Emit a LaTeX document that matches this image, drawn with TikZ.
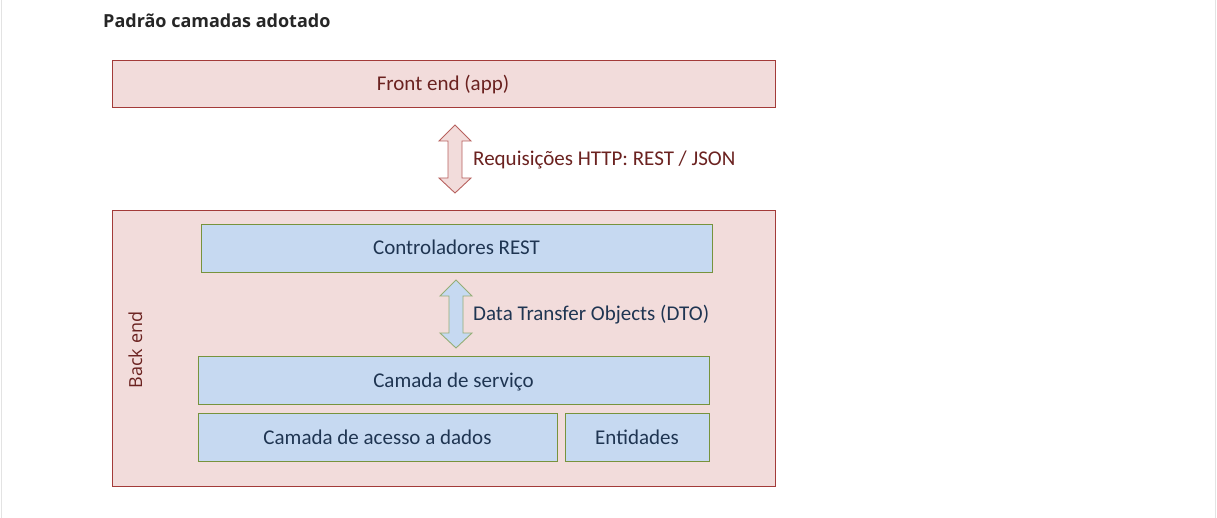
\documentclass[tikz,border=0pt]{standalone}
\usepackage{fontspec}
\setmainfont{Carlito}
\newfontfamily\titlefont{Open Sans}
\definecolor{pinkfill}{HTML}{F2DCDB}
\definecolor{redline}{HTML}{A33B39}
\definecolor{redtext}{HTML}{6B2220}
\definecolor{bluefill}{HTML}{C6D9F1}
\definecolor{greenline}{HTML}{77933C}
\definecolor{bluetext}{HTML}{1F3552}
\definecolor{arrowred}{HTML}{B8625F}
\definecolor{arrowgreen}{HTML}{94AE76}
\tikzset{
  outerbox/.style={draw=redline, fill=pinkfill, line width=0.9pt, inner sep=0pt},
  layerbox/.style={draw=greenline, fill=bluefill, line width=0.9pt, inner sep=0pt},
  redlabel/.style={text=redtext, font=\fontsize{21}{24}\selectfont, inner sep=0pt, anchor=base},
  bluelabel/.style={text=bluetext, font=\fontsize{21}{24}\selectfont, inner sep=0pt, anchor=base},
  redarrow/.style={draw=arrowred, fill=pinkfill, line width=0.9pt, line join=miter},
  bluearrow/.style={draw=arrowgreen, fill=bluefill, line width=0.9pt, line join=miter},
}
\begin{document}
\begin{tikzpicture}[x=1pt,y=-1pt]
\useasboundingbox (0,0) rectangle (1217,518);
\fill[white] (0,0) rectangle (1217,518);
\draw[gray!22, line width=1pt] (1.5,0) -- (1.5,518);
\draw[gray!22, line width=1pt] (1215.5,0) -- (1215.5,518);

\node[anchor=base west, inner sep=0pt, text=black!85, font=\titlefont\bfseries\fontsize{18}{21}\selectfont] (title) at (103,28) {Padrão camadas adotado};

% Front end
\draw[outerbox] (112,60) rectangle (775,107);
\node[redlabel] (front) at (443,91) {Front end (app)};

% HTTP arrow
\draw[redarrow] (455,125) -- (471,141) -- (462,141) -- (462,178) -- (471,178) -- (455,193)
  -- (439,178) -- (448,178) -- (448,141) -- (439,141) -- cycle;
\node[redlabel, anchor=base west] (http) at (473,166) {Requisições HTTP: REST / JSON};

% Back end
\draw[outerbox] (112,210) rectangle (775,486);
\node[text=redtext, inner sep=0pt, rotate=90, anchor=base, font=\titlefont\fontsize{18}{21}\selectfont] (back) at (142,350) {Back end};

% Layers
\draw[layerbox] (201,224) rectangle (712,272);
\node[bluelabel] (ctrl) at (456.5,255) {Controladores REST};

\draw[bluearrow] (456,280) -- (472,296) -- (463,296) -- (463,333) -- (472,333) -- (456,348)
  -- (440,333) -- (449,333) -- (449,296) -- (440,296) -- cycle;
\node[bluelabel, anchor=base west] (dto) at (473,320) {Data Transfer Objects (DTO)};

\draw[layerbox] (198,356) rectangle (709,404);
\node[bluelabel] (serv) at (453.5,387) {Camada de serviço};

\draw[layerbox] (198,413) rectangle (557,461);
\node[bluelabel] (dados) at (377.5,444) {Camada de acesso a dados};

\draw[layerbox] (565,413) rectangle (709,461);
\node[bluelabel] (ent) at (637,444) {Entidades};
\end{tikzpicture}
\end{document}
